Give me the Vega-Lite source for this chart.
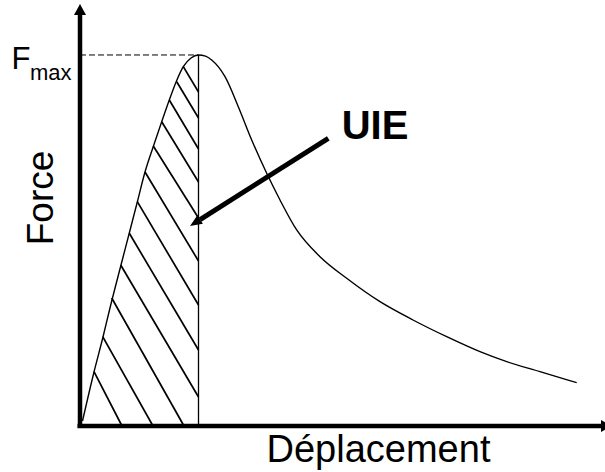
{
  "$schema": "https://vega.github.io/schema/vega-lite/v6.json",
  "width": 605,
  "height": 472,
  "padding": 0,
  "autosize": {"type": "none"},
  "background": "white",
  "config": {"view": {"stroke": null}},
  "datasets": {
    "curve": [
      {"d": 0.04, "f": 0.0135}, {"d": 0.27, "f": 0.1456}, {"d": 0.45, "f": 0.2399},
      {"d": 0.58, "f": 0.3127}, {"d": 0.81, "f": 0.434}, {"d": 0.976, "f": 0.5202},
      {"d": 1.136, "f": 0.6038}, {"d": 1.29, "f": 0.6846}, {"d": 1.456, "f": 0.7534},
      {"d": 1.624, "f": 0.8202}, {"d": 1.776, "f": 0.8787}, {"d": 1.924, "f": 0.9313},
      {"d": 2.056, "f": 0.9685}, {"d": 2.21, "f": 0.9919}, {"d": 2.36, "f": 1.0},
      {"d": 2.5, "f": 0.997}, {"d": 2.624, "f": 0.9865},
      {"d": 2.89, "f": 0.9415}, {"d": 3.156, "f": 0.8607},
      {"d": 3.424, "f": 0.7709}, {"d": 3.724, "f": 0.6811}, {"d": 3.99, "f": 0.6092},
      {"d": 4.324, "f": 0.5283}, {"d": 4.79, "f": 0.4563}, {"d": 5.324, "f": 0.3981},
      {"d": 5.99, "f": 0.335}, {"d": 6.65, "f": 0.2857}, {"d": 7.324, "f": 0.2407},
      {"d": 7.99, "f": 0.2003}, {"d": 8.524, "f": 0.1733}, {"d": 9.19, "f": 0.1464},
      {"d": 9.924, "f": 0.1167}
    ],
    "hatch": [
      {"d": 2.056, "f": 0.9685, "d2": 2.36, "f2": 0.9003},
      {"d": 1.924, "f": 0.928, "d2": 2.36, "f2": 0.8302},
      {"d": 1.776, "f": 0.8787, "d2": 2.36, "f2": 0.7466},
      {"d": 1.624, "f": 0.8202, "d2": 2.36, "f2": 0.6577},
      {"d": 1.456, "f": 0.7547, "d2": 2.36, "f2": 0.5606},
      {"d": 1.29, "f": 0.6846, "d2": 2.36, "f2": 0.4447},
      {"d": 1.136, "f": 0.6046, "d2": 2.36, "f2": 0.3261},
      {"d": 0.976, "f": 0.5194, "d2": 2.36, "f2": 0.2049},
      {"d": 0.804, "f": 0.434, "d2": 2.36, "f2": 0.0782},
      {"d": 0.624, "f": 0.345, "d2": 2.07, "f2": 0.0},
      {"d": 0.444, "f": 0.2407, "d2": 1.45, "f2": 0.0},
      {"d": 0.27, "f": 0.1464, "d2": 0.83, "f2": 0.0}
    ],
    "vline": [{"d": 2.36, "f": 1.0, "d2": 2.36, "f2": 0.0}],
    "dash": [{"d": -0.01, "f": 1.0, "d2": 2.36, "f2": 1.0}],
    "axes": [
      {"d": -0.01, "f": -0.0054, "d2": -0.01, "f2": 1.1105},
      {"d": -0.06, "f": 0.0, "d2": 10.45, "f2": 0.0}
    ],
    "shaft": [{"d": 4.956, "f": 0.7755, "d2": 2.392, "f2": 0.5563}],
    "yhead": [{"d": -0.01, "f": 1.1375}],
    "xhead": [{"d": 10.63, "f": 0.0}],
    "uiehead": [{"d": 2.19, "f": 0.5391}],
    "labels": [
      {"label": "F", "d": -1.38, "f": 0.9615},
      {"label": "max", "d": -1.01, "f": 0.9326},
      {"label": "UIE", "d": 5.89, "f": 0.7728},
      {"label": "Force", "d": -0.544, "f": 0.6146},
      {"label": "Déplacement", "d": 5.96, "f": -0.0962}
    ]
  },
  "encoding": {
    "x": {"field": "d", "type": "quantitative", "scale": {"domain": [-1.61, 10.49], "nice": false, "zero": false}, "axis": null},
    "y": {"field": "f", "type": "quantitative", "scale": {"domain": [-0.124, 1.1482], "nice": false, "zero": false}, "axis": null}
  },
  "layer": [
    {
      "data": {"name": "hatch"},
      "mark": {"type": "rule", "color": "black", "strokeWidth": 1.7, "strokeCap": "butt"},
      "encoding": {"x2": {"field": "d2"}, "y2": {"field": "f2"}}
    },
    {
      "data": {"name": "vline"},
      "mark": {"type": "rule", "color": "black", "strokeWidth": 1.3},
      "encoding": {"x2": {"field": "d2"}, "y2": {"field": "f2"}}
    },
    {
      "data": {"name": "dash"},
      "mark": {"type": "rule", "color": "black", "strokeWidth": 1, "strokeDash": [6, 3]},
      "encoding": {"x2": {"field": "d2"}, "y2": {"field": "f2"}}
    },
    {
      "data": {"name": "curve"},
      "mark": {"type": "line", "color": "black", "strokeWidth": 1.4, "interpolate": "monotone"},
      "encoding": {}
    },
    {
      "data": {"name": "axes"},
      "mark": {"type": "rule", "color": "black", "strokeWidth": 4.5, "strokeCap": "butt"},
      "encoding": {"x2": {"field": "d2"}, "y2": {"field": "f2"}}
    },
    {
      "data": {"name": "shaft"},
      "mark": {"type": "rule", "color": "black", "strokeWidth": 5, "strokeCap": "butt"},
      "encoding": {"x2": {"field": "d2"}, "y2": {"field": "f2"}}
    },
    {
      "data": {"name": "yhead"},
      "mark": {"type": "point", "shape": "M0,0L-1,1.83L1,1.83Z", "size": 144, "filled": true, "color": "black", "opacity": 1, "strokeWidth": 0}
    },
    {
      "data": {"name": "xhead"},
      "mark": {"type": "point", "shape": "M0,0L-1,1.83L1,1.83Z", "size": 144, "angle": 90, "filled": true, "color": "black", "opacity": 1, "strokeWidth": 0}
    },
    {
      "data": {"name": "uiehead"},
      "mark": {"type": "point", "shape": "M0,0L-0.85,2L0.85,2Z", "size": 144, "angle": 237.5, "filled": true, "color": "black", "opacity": 1, "strokeWidth": 0}
    },
    {
      "data": {"name": "labels"},
      "transform": [{"filter": "datum.label == 'F'"}],
      "mark": {"type": "text", "font": "Liberation Sans", "fontSize": 31, "align": "left", "baseline": "alphabetic", "color": "black"},
      "encoding": {"text": {"field": "label"}}
    },
    {
      "data": {"name": "labels"},
      "transform": [{"filter": "datum.label == 'max'"}],
      "mark": {"type": "text", "font": "Liberation Sans", "fontSize": 22, "align": "left", "baseline": "alphabetic", "color": "black"},
      "encoding": {"text": {"field": "label"}}
    },
    {
      "data": {"name": "labels"},
      "transform": [{"filter": "datum.label == 'UIE'"}],
      "mark": {"type": "text", "font": "Liberation Sans", "fontSize": 40, "fontWeight": "bold", "align": "center", "baseline": "alphabetic", "color": "black"},
      "encoding": {"text": {"field": "label"}}
    },
    {
      "data": {"name": "labels"},
      "transform": [{"filter": "datum.label == 'Force'"}],
      "mark": {"type": "text", "font": "Liberation Sans", "fontSize": 37, "angle": 270, "align": "center", "baseline": "alphabetic", "color": "black"},
      "encoding": {"text": {"field": "label"}}
    },
    {
      "data": {"name": "labels"},
      "transform": [{"filter": "datum.label == 'Déplacement'"}],
      "mark": {"type": "text", "font": "Liberation Sans", "fontSize": 38, "align": "center", "baseline": "alphabetic", "color": "black"},
      "encoding": {"text": {"field": "label"}}
    }
  ]
}
